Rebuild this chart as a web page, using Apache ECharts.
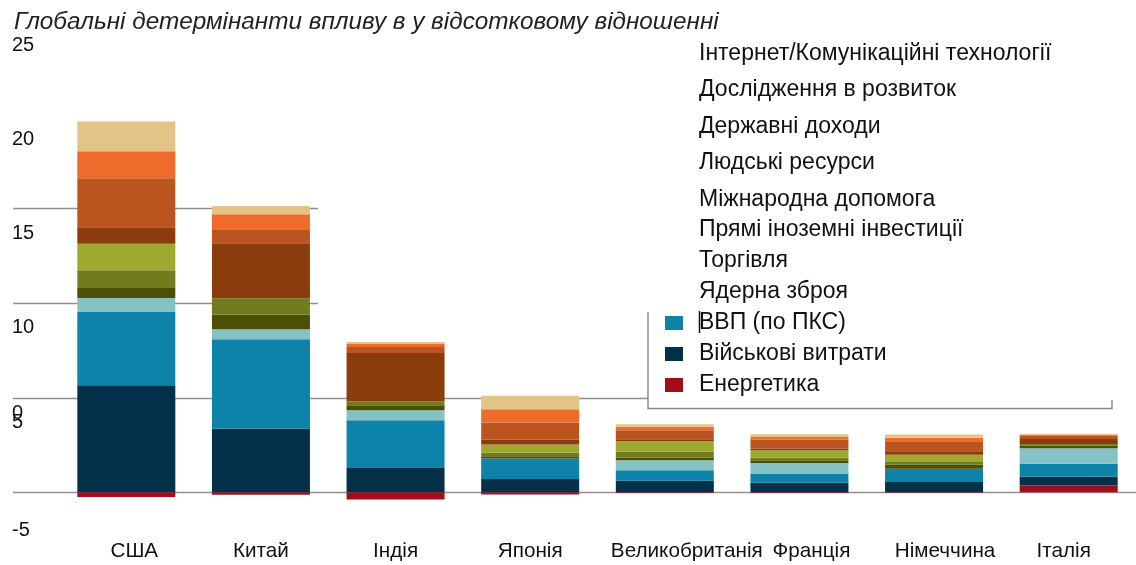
<!DOCTYPE html>
<html>
<head>
<meta charset="utf-8">
<script src="https://cdn.jsdelivr.net/npm/echarts@6/dist/echarts.min.js"></script>
<style>
  html, body { margin: 0; padding: 0; background: #fff; }
  #chart { width: 1136px; height: 565px; }
</style>
</head>
<body>
<div id="chart"></div>
<script>
// ---- data ----
const titleText = 'Глобальні детермінанти впливу в у відсотковому відношенні';
const categories = ['США', 'Китай', 'Індія', 'Японія', 'Великобританія', 'Франція', 'Німеччина', 'Італія'];

const energy   = [-0.26, -0.14, -0.39, -0.13, -0.05, -0.05, -0.03, 0.35];
const military = [5.65, 3.36, 1.28, 0.69, 0.60, 0.49, 0.54, 0.48];
const gdp      = [3.87, 4.72, 2.52, 1.09, 0.56, 0.49, 0.70, 0.67];
const nuclear  = [0.74, 0.53, 0.53, 0.00, 0.53, 0.56, 0.00, 0.82];
const trade    = [0.53, 0.78, 0.26, 0.12, 0.14, 0.14, 0.21, 0.14];
const fdi      = [0.93, 0.85, 0.21, 0.18, 0.30, 0.14, 0.14, 0.09];
const aid      = [1.41, 0.00, 0.00, 0.44, 0.56, 0.39, 0.39, 0.00];
const human    = [0.86, 2.91, 2.55, 0.26, 0.10, 0.09, 0.14, 0.26];
const revenue  = [2.59, 0.74, 0.32, 0.90, 0.48, 0.48, 0.53, 0.18];
const research = [1.43, 0.79, 0.16, 0.70, 0.18, 0.14, 0.23, 0.05];
const internet = [1.58, 0.44, 0.11, 0.72, 0.14, 0.14, 0.17, 0.00];

const seriesNames = [
  'Енергетика', 'Військові витрати', 'ВВП (по ПКС)', 'Ядерна зброя', 'Торгівля',
  'Прямі іноземні інвестиції', 'Міжнародна допомога', 'Людські ресурси',
  'Державні доходи', 'Дослідження в розвиток', 'Інтернет/Комунікаційні технології'
];
const seriesValues = [energy, military, gdp, nuclear, trade, fdi, aid, human, revenue, research, internet];

const yTicksUpper = [5, 10, 15, 20, 25];
const yTicksLower = [-5, 0];
const gridValues = [0, 5, 10, 15];

// ---- styles ----
const colors = ['#a30d1a', '#043149', '#0d83a9', '#85c2c4', '#4a5005', '#707c1d',
                '#9fa82f', '#8b3c0c', '#bb5520', '#ef6b2c', '#e2c487'];
const FONT = '"Liberation Sans", Arial, sans-serif';
const labelShift = [16, 0, 0, 0, 44, 24, 22, -10];

const legendTop = seriesNames.slice(6).reverse();      // first five (no markers)
const legendBottom = seriesNames.slice(0, 6).reverse(); // next six
const markerNames = ['ВВП (по ПКС)', 'Військові витрати', 'Енергетика'];
function legendData(names) {
  return names.map(n => markerNames.includes(n) ? { name: n } : { name: n, itemStyle: { opacity: 0 } });
}
const legendCommon = {
  orient: 'vertical', left: 665, padding: 0, itemWidth: 18, itemHeight: 14,
  icon: 'rect', selectedMode: false,
  textStyle: { fontFamily: FONT, fontSize: 23, color: '#111', lineHeight: 23, padding: [0, 0, 0, 11] }
};

const chart = echarts.init(document.getElementById('chart'), null, { renderer: 'canvas' });

const option = {
  animation: false,
  backgroundColor: '#fff',
  color: colors,
  title: {
    text: titleText, left: 9, top: 5,
    textStyle: { fontFamily: FONT, fontSize: 24.3, fontStyle: 'italic', fontWeight: 'normal', color: '#222' }
  },
  legend: [
    Object.assign({}, legendCommon, { top: 42, itemGap: 13.5, data: legendData(legendTop) }),
    Object.assign({}, legendCommon, { top: 218.5, itemGap: 8, data: legendData(legendBottom) })
  ],
  grid: [
    { left: 59, right: -12, top: 19, bottom: 35 },
    { left: 40, width: 10, top: 45, bottom: 143 },
    { left: 40, width: 10, top: 413, bottom: 35 }
  ],
  xAxis: [
    {
      type: 'category', data: categories.map((c, i) => ({
        value: c,
        textStyle: { padding: labelShift[i] >= 0 ? [0, 0, 0, labelShift[i]] : [0, -labelShift[i], 0, 0] }
      })),
      gridIndex: 0,
      axisLine: { show: false, onZero: false }, axisTick: { show: false },
      axisLabel: { fontFamily: FONT, fontSize: 20.7, color: '#111', margin: 11, interval: 0 }
    },
    { gridIndex: 1, type: 'value', show: false },
    { gridIndex: 2, type: 'value', show: false }
  ],
  yAxis: [
    {
      type: 'value', gridIndex: 0, min: -2, max: 25,
      axisLabel: { show: false }, axisLine: { show: false }, axisTick: { show: false },
      splitLine: { show: false }
    },
    {
      type: 'value', gridIndex: 1, min: yTicksUpper[0], max: yTicksUpper[yTicksUpper.length - 1],
      interval: yTicksUpper[1] - yTicksUpper[0],
      axisLine: { show: false }, axisTick: { show: false }, splitLine: { show: false },
      axisLabel: { fontFamily: FONT, fontSize: 20, color: '#111', align: 'left', margin: 28,
                   customValues: yTicksUpper }
    },
    {
      type: 'value', gridIndex: 2, min: yTicksLower[0], max: yTicksLower[yTicksLower.length - 1],
      interval: yTicksLower[1] - yTicksLower[0],
      axisLine: { show: false }, axisTick: { show: false }, splitLine: { show: false },
      axisLabel: { fontFamily: FONT, fontSize: 20, color: '#111', align: 'left', margin: 28,
                   customValues: yTicksLower }
    }
  ],
  series: seriesNames.map((name, i) => ({
    name: name, type: 'bar', stack: 'total', barWidth: 98,
    xAxisIndex: 0, yAxisIndex: 0, z: 3,
    itemStyle: { color: colors[i] },
    data: seriesValues[i]
  }))
};
chart.setOption(option);

// gridlines and legend frame, placed through the value axis scale
const lineExtents = { 0: [13, 1136], 5: [13, 648], 10: [13, 318], 15: [13, 318] };
const graphics = gridValues.map(v => {
  const y = Math.round(chart.convertToPixel({ yAxisIndex: 0 }, v)) + 0.5;
  return {
    type: 'line', z: 1, silent: true,
    shape: { x1: lineExtents[v][0], y1: y, x2: lineExtents[v][1], y2: y },
    style: { stroke: '#8f8f8f', lineWidth: 1.5 }
  };
});
graphics.push({
  type: 'polyline', z: 10, silent: true,
  shape: { points: [[648, 312], [648, 408.5], [1112, 408.5], [1112, 400]] },
  style: { stroke: '#8a8a8a', lineWidth: 1.5, fill: null }
});
graphics.push({
  type: 'line', z: 10, silent: true,
  shape: { x1: 699.5, y1: 311, x2: 699.5, y2: 333 },
  style: { stroke: '#111', lineWidth: 1.5 }
});
chart.setOption({ graphic: graphics });
</script>
</body>
</html>
